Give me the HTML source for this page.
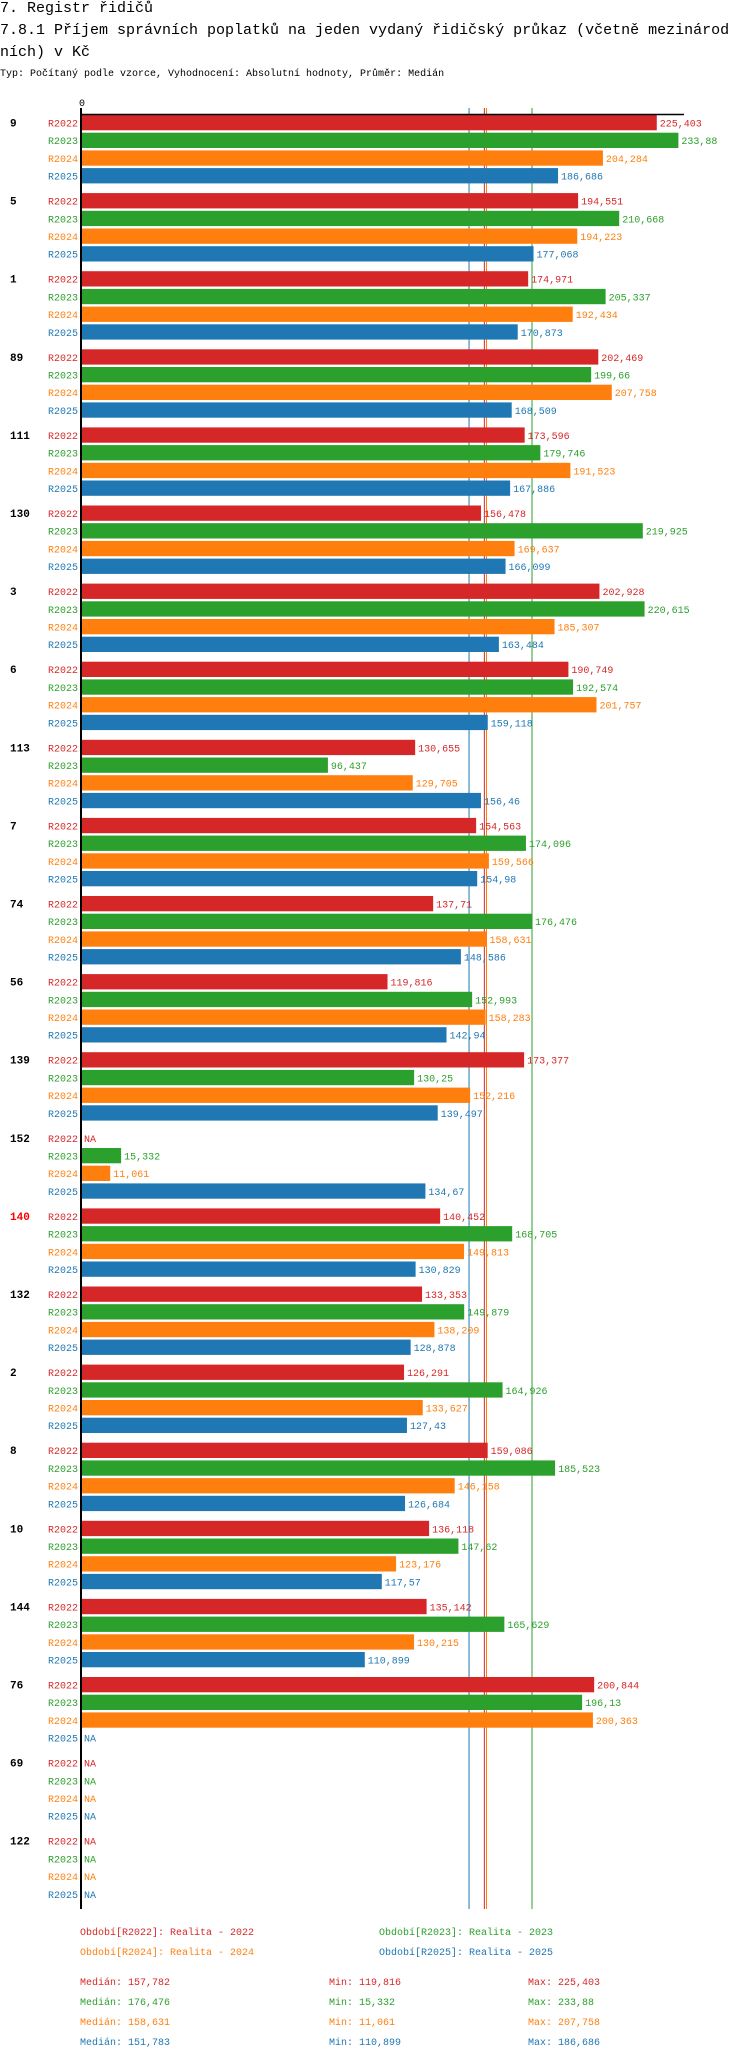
<!DOCTYPE html>
<html><head><meta charset="utf-8"><style>
html,body{margin:0;padding:0;background:#fff;width:750px;height:2058px;overflow:hidden}
svg text{font-family:"Liberation Mono",monospace}
</style></head><body>
<svg id="chart" width="750" height="2058" viewBox="0 0 750 2058" xmlns="http://www.w3.org/2000/svg">
<text x="0" y="12" font-size="15" fill="#000">7. Registr řidičů</text>
<text x="0" y="34" font-size="15" fill="#000">7.8.1 Příjem správních poplatků na jeden vydaný řidičský průkaz (včetně mezinárod</text>
<text x="0" y="56" font-size="15" fill="#000">ních) v Kč</text>
<text x="0" y="76" font-size="10" fill="#000">Typ: Počítaný podle vzorce, Vyhodnocení: Absolutní hodnoty, Průměr: Medián</text>
<text x="79" y="106" font-size="10" fill="#000">0</text>
<g id="refs"></g>
<g id="bars"></g>
<line x1="80" y1="114.5" x2="684" y2="114.5" stroke="#000" stroke-width="1.5"/>
<line x1="81" y1="108" x2="81" y2="1909" stroke="#000" stroke-width="2"/>
<g id="legend"></g>
</svg>
<script>
const categories = ["9","5","1","89","111","130","3","6","113","7","74","56","139","152","140","132","2","8","10","144","76","69","122"];
const seriesNames = ["R2022","R2023","R2024","R2025"];
const r2022 = [225.403,194.551,174.971,202.469,173.596,156.478,202.928,190.749,130.655,154.563,137.71,119.816,173.377,null,140.452,133.353,126.291,159.086,136.118,135.142,200.844,null,null];
const r2023 = [233.88,210.668,205.337,199.66,179.746,219.925,220.615,192.574,96.437,174.096,176.476,152.993,130.25,15.332,168.705,149.879,164.926,185.523,147.62,165.629,196.13,null,null];
const r2024 = [204.284,194.223,192.434,207.758,191.523,169.637,185.307,201.757,129.705,159.566,158.631,158.283,152.216,11.061,149.813,138.209,133.627,146.158,123.176,130.215,200.363,null,null];
const r2025 = [186.686,177.068,170.873,168.509,167.886,166.099,163.484,159.118,156.46,154.98,148.586,142.94,139.497,134.67,130.829,128.878,127.43,126.684,117.57,110.899,null,null,null];
const medians = [157.782,176.476,158.631,151.783];
const mins = [119.816,15.332,11.061,110.899];
const maxs = [225.403,233.88,207.758,186.686];
const highlighted = "140";

const colors = ["#d62728","#2ca02c","#ff7f0e","#1f77b4"];
const series = [r2022,r2023,r2024,r2025];
const NS = "http://www.w3.org/2000/svg";
const x0 = 82, k = 2.55;
const xScale = v => x0 + v * k;
const groupTop = i => 115 + i * 78.1;
const barTop = (i,j) => groupTop(i) + j * 17.7;
const fmt = v => String(v).replace('.', ',');
function mk(tag, parent){const e=document.createElementNS(NS,tag);parent.appendChild(e);return e;}

const refs = document.getElementById('refs');
const order = [3,0,2,1];
order.forEach(s=>{
  const l = mk('line', refs);
  
  
  const x = xScale(medians[s]);
  l.setAttribute('x1', x); l.setAttribute('x2', x);
  l.setAttribute('y1', 108); l.setAttribute('y2', 1909);
  l.setAttribute('stroke', colors[s]); l.setAttribute('stroke-width', 1);
});

const bars = document.getElementById('bars');
categories.forEach((c,i)=>{
  const g = mk('text', bars);
  
  
  g.setAttribute('x', 10); g.setAttribute('y', barTop(i,0) + 11.5);
  g.setAttribute('font-size', 11); g.setAttribute('font-weight', 'bold');
  g.setAttribute('fill', c === highlighted ? '#ff0000' : '#000');
  g.textContent = c;
  series.forEach((arr,j)=>{
    const y = barTop(i,j);
    const sl = mk('text', bars);
    
    
    sl.setAttribute('x', 78); sl.setAttribute('y', y + 11.5);
    sl.setAttribute('font-size', 10); sl.setAttribute('text-anchor', 'end');
    sl.setAttribute('fill', colors[j]);
    sl.textContent = seriesNames[j];
    const v = arr[i];
    let labelX = x0 + 3;
    if (v !== null) {
      const r = mk('rect', bars);
      
      
      r.setAttribute('x', x0); r.setAttribute('y', y);
      r.setAttribute('width', xScale(v) - x0); r.setAttribute('height', 15.3);
      r.setAttribute('fill', colors[j]);
      labelX = xScale(v) + 3;
    } else { labelX = x0 + 2; }
    const vl = mk('text', bars);
    
    
    vl.setAttribute('x', labelX); vl.setAttribute('y', y + 11.5);
    vl.setAttribute('font-size', 10); vl.setAttribute('fill', colors[j]);
    vl.textContent = v === null ? 'NA' : fmt(v);
  });
});

const legend = document.getElementById('legend');
const legPos = [[80,1935],[379,1935],[80,1955],[379,1955]];
seriesNames.forEach((s,j)=>{
  const t = mk('text', legend);
  
  
  t.setAttribute('x', legPos[j][0]); t.setAttribute('y', legPos[j][1]);
  t.setAttribute('font-size', 10); t.setAttribute('fill', colors[j]);
  t.textContent = 'Období[' + s + ']: Realita - ' + s.slice(1);
  const y = 1985 + j * 20;
  [['Medián: ', medians[j], 80, 'median'], ['Min: ', mins[j], 329, 'min'], ['Max: ', maxs[j], 528, 'max']].forEach(([p,v,x,n])=>{
    const st = mk('text', legend);
    
    
    st.setAttribute('x', x); st.setAttribute('y', y);
    st.setAttribute('font-size', 10); st.setAttribute('fill', colors[j]);
    st.textContent = p + fmt(v);
  });
});
</script>
</body></html>
